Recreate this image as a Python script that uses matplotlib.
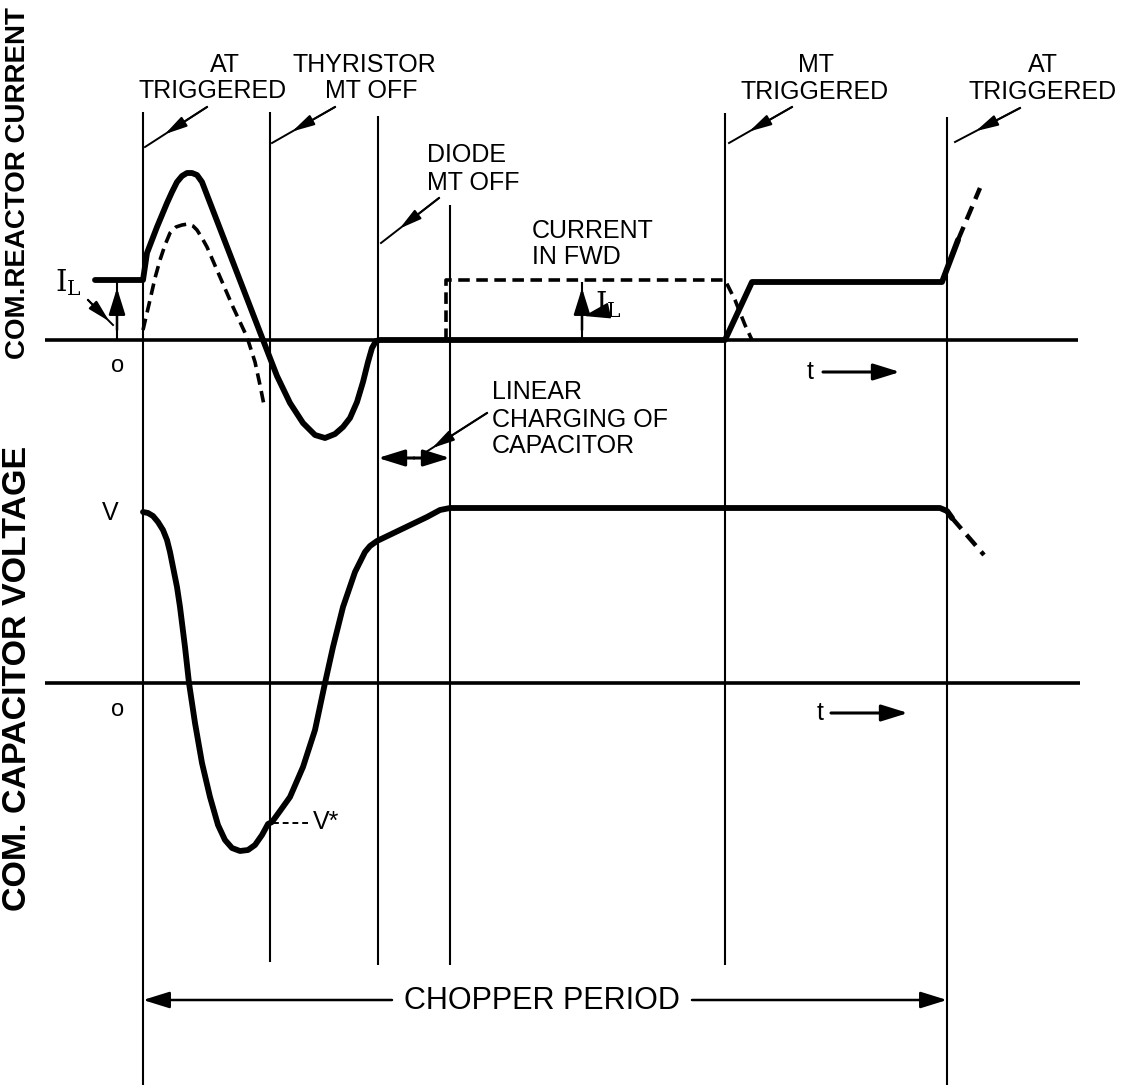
import matplotlib
matplotlib.use("Agg")
import matplotlib.pyplot as plt

plt.rcParams['font.family'] = ['Liberation Sans', 'DejaVu Sans']
plt.rcParams['mathtext.fontset'] = 'dejavuserif'

W, H = 1129, 1089

# event instants (horizontal position on the sheet)
T_AT_ON = 143
T_THY_OFF = 270
T_MT_OFF = 378
T_DIODE_OFF = 450
T_MT_ON = 725
T_AT_ON2 = 947

# zero levels of the two traces
I_ZERO = 340
V_ZERO = 683

# commutating reactor current, solid trace
reactor_x = [95, 143, 147, 152, 157, 162, 167, 172, 177, 182, 187, 192, 197, 202,
             263, 277, 290, 303, 315, 325, 335, 343, 350, 357, 363, 368, 372, 376,
             380, 725, 752, 942, 958]
reactor_y = [280, 280, 253, 240, 227, 215, 203, 192, 182, 176, 173, 173, 175, 182,
             340, 376, 403, 423, 435, 438, 434, 427, 418, 402, 382, 362, 348, 341,
             340, 340, 282, 282, 240]
reactor_next_x = [958, 980]
reactor_next_y = [240, 188]

# dashed: auxiliary thyristor pulse and free-wheeling diode current
aux_x = [143, 150, 155, 160, 165, 170, 176, 182, 188, 193, 197, 202, 207, 220,
         233, 247, 255, 260, 264]
aux_y = [330, 300, 278, 260, 245, 233, 227, 225, 224, 226, 230, 238, 247, 277,
         307, 337, 362, 385, 405]
fwd_x = [446, 446, 725, 735, 745, 752]
fwd_y = [340, 280, 280, 300, 325, 340]

# commutating capacitor voltage
cap_x = [143, 148, 153, 158, 163, 167, 170, 173, 177, 180, 185, 189, 195, 202,
         210, 218, 225, 232, 240, 248, 255, 262, 268, 272, 280, 290, 303, 315,
         325, 333, 343, 355, 365, 370, 377, 427, 440, 450, 940, 947, 952]
cap_y = [512, 513, 516, 522, 530, 540, 552, 567, 587, 607, 647, 683, 723, 763,
         797, 825, 840, 848, 851, 850, 845, 835, 824, 822, 811, 797, 767, 730,
         683, 647, 607, 572, 552, 546, 541, 517, 510, 508, 508, 511, 518]
cap_next_x = [952, 984]
cap_next_y = [518, 555]

fig = plt.figure(figsize=(W / 100, H / 100), dpi=100)
ax = fig.add_axes([0, 0, 1, 1])
ax.set_xlim(0, W)
ax.set_ylim(H, 0)
ax.axis('off')

K = 'black'
DASH = (0, (3.2, 1.8))


def pointer(start, end, frac=0.68):
    # leader line with the arrow head sitting part way along
    ax.plot([start[0], end[0]], [start[1], end[1]], color=K, lw=1.4)
    mid = (start[0] + frac * (end[0] - start[0]), start[1] + frac * (end[1] - start[1]))
    ax.annotate('', xy=mid, xytext=start,
                arrowprops=dict(arrowstyle='-|>,head_length=0.8,head_width=0.2',
                                color=K, lw=1.4, shrinkA=0, shrinkB=0, mutation_scale=17))


def arrow(start, end, style='-|>', lw=1.8):
    ax.annotate('', xy=end, xytext=start,
                arrowprops=dict(arrowstyle=style + ',head_length=0.9,head_width=0.28',
                                color=K, lw=lw, shrinkA=0, shrinkB=0, mutation_scale=18))


# event markers
ax.vlines(T_AT_ON, 112, 1085, color=K, lw=1.5)
ax.vlines(T_THY_OFF, 112, 962, color=K, lw=1.5)
ax.vlines(T_MT_OFF, 116, 965, color=K, lw=1.5)
ax.vlines(T_DIODE_OFF, 205, 965, color=K, lw=1.5)
ax.vlines(T_MT_ON, 113, 965, color=K, lw=1.5)
ax.vlines(T_AT_ON2, 117, 1085, color=K, lw=1.5)

# time axes
ax.hlines(I_ZERO, 45, 1078, color=K, lw=2.6)
ax.hlines(V_ZERO, 45, 1080, color=K, lw=2.6)

# waveforms
ax.plot(reactor_x, reactor_y, color=K, lw=4.2, solid_joinstyle='round', solid_capstyle='round')
ax.plot(reactor_next_x, reactor_next_y, color=K, lw=3.2, linestyle=DASH)
ax.plot(aux_x, aux_y, color=K, lw=2.6, linestyle=DASH)
ax.plot(fwd_x, fwd_y, color=K, lw=2.6, linestyle=DASH)
ax.plot(cap_x, cap_y, color=K, lw=4.2, solid_joinstyle='round', solid_capstyle='round')
ax.plot(cap_next_x, cap_next_y, color=K, lw=3.2, linestyle=DASH)

# vertical axis titles
ax.text(18, 183, 'COM.REACTOR CURRENT', rotation=90, ha='center', va='center',
        fontsize=20, fontweight='bold')
ax.text(18, 678, 'COM. CAPACITOR VOLTAGE', rotation=90, ha='center', va='center',
        fontsize=24.5, fontweight='bold')

FS = 18
ax.text(225, 65, 'AT', ha='center', va='center', fontsize=FS)
ax.text(213, 91, 'TRIGGERED', ha='center', va='center', fontsize=FS)
pointer((207, 107), (145, 147))

ax.text(364, 65, 'THYRISTOR', ha='center', va='center', fontsize=FS)
ax.text(371, 91, 'MT OFF', ha='center', va='center', fontsize=FS)
pointer((335, 107), (272, 143))

ax.text(427, 155, 'DIODE', ha='left', va='center', fontsize=FS)
ax.text(427, 183, 'MT OFF', ha='left', va='center', fontsize=FS)
pointer((439, 198), (381, 243))

ax.text(532, 231, 'CURRENT', ha='left', va='center', fontsize=FS)
ax.text(532, 257, 'IN FWD', ha='left', va='center', fontsize=FS)

ax.text(816, 65, 'MT', ha='center', va='center', fontsize=FS)
ax.text(815, 92, 'TRIGGERED', ha='center', va='center', fontsize=FS)
pointer((792, 107), (729, 143))

ax.text(1043, 65, 'AT', ha='center', va='center', fontsize=FS)
ax.text(1043, 92, 'TRIGGERED', ha='center', va='center', fontsize=FS)
pointer((1020, 108), (955, 142))

# load current markers
ax.vlines(117, 282, 340, color=K, lw=1.5)
arrow((117, 330), (117, 288))
ax.text(68, 283, r'$\mathrm{I_L}$', ha='center', va='center', fontsize=21)
pointer((88, 300), (113, 325), frac=0.85)

ax.vlines(582, 282, 340, color=K, lw=1.5)
arrow((582, 330), (582, 288))
ax.text(608, 305, r'$\mathrm{I_L}$', ha='center', va='center', fontsize=21)
arrow((598, 313), (584, 316), lw=1.2)

ax.text(118, 366, 'o', ha='center', va='center', fontsize=17)
ax.text(118, 710, 'o', ha='center', va='center', fontsize=17)
ax.text(110, 513, 'V', ha='center', va='center', fontsize=FS)

# time arrows
ax.text(810, 372, 't', ha='center', va='center', fontsize=FS)
arrow((823, 372), (900, 372), lw=2.2)
ax.text(820, 713, 't', ha='center', va='center', fontsize=FS)
arrow((831, 713), (908, 713), lw=2.2)

# linear charging interval
arrow((414, 458), (T_MT_OFF, 458), lw=2.2)
arrow((414, 458), (T_DIODE_OFF, 458), lw=2.2)
ax.text(492, 392, 'LINEAR', ha='left', va='center', fontsize=FS)
ax.text(492, 420, 'CHARGING OF', ha='left', va='center', fontsize=FS)
ax.text(492, 446, 'CAPACITOR', ha='left', va='center', fontsize=FS)
pointer((487, 413), (426, 452), frac=0.9)

# V* marker
ax.plot([273, 311], [823, 823], color=K, lw=1.4, linestyle=(0, (3, 2)))
ax.text(313, 822, 'V*', ha='left', va='center', fontsize=FS)

# chopper period
arrow((392, 1000), (T_AT_ON, 1000), lw=1.8)
arrow((692, 1000), (T_AT_ON2, 1000), lw=1.8)
ax.text(542, 1001, 'CHOPPER PERIOD', ha='center', va='center', fontsize=22)

fig.savefig('out.png', dpi=100)
